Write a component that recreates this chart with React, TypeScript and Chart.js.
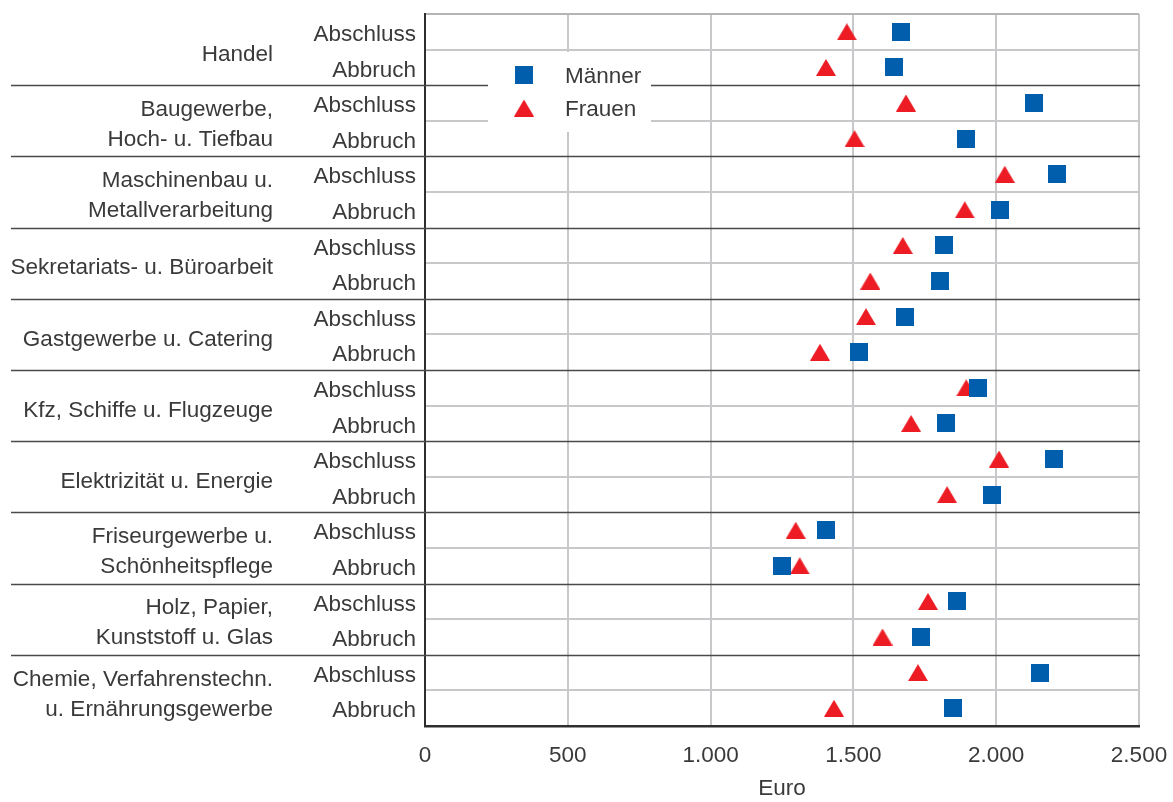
import React, { useEffect, useRef } from 'react';
import { Chart, registerables } from 'chart.js';

Chart.register(...registerables);

// ---------- data ----------
const groupLabels: string[][] = [
  ['Handel'],
  ['Baugewerbe,', 'Hoch- u. Tiefbau'],
  ['Maschinenbau u.', 'Metallverarbeitung'],
  ['Sekretariats- u. Büroarbeit'],
  ['Gastgewerbe u. Catering'],
  ['Kfz, Schiffe u. Flugzeuge'],
  ['Elektrizität u. Energie'],
  ['Friseurgewerbe u.', 'Schönheitspflege'],
  ['Holz, Papier,', 'Kunststoff u. Glas'],
  ['Chemie, Verfahrenstechn.', 'u. Ernährungsgewerbe'],
];
const rowLabels = ['Abschluss', 'Abbruch'];
const menAbschluss = [1667, 2133, 2214, 1818, 1681, 1937, 2203, 1404, 1863, 2154];
const menAbbruch = [1643, 1895, 2014, 1804, 1520, 1825, 1986, 1250, 1737, 1849];
const womenAbschluss = [1477, 1684, 2030, 1673, 1544, 1895, 2010, 1298, 1761, 1726];
const womenAbbruch = [1404, 1504, 1890, 1559, 1383, 1702, 1828, 1312, 1602, 1432];
const seriesNames = ['Männer', 'Frauen'];
const xTickValues = [0, 500, 1000, 1500, 2000, 2500];
const axisTitle = 'Euro';

// ---------- styles ----------
const FONT = "'Liberation Sans', Arial, Helvetica, sans-serif";
const FS = 22.5;
const TEXT = '#3a3a3a';
const GRID = '#c8c8ca';
const DARK = '#4a4a4a';
const AXIS = '#2e2e2e';
const BLUE = '#005EAC';
const RED = '#ED1C24';

function makeSquare(): HTMLCanvasElement {
  const c = document.createElement('canvas');
  c.width = 18;
  c.height = 18;
  const g = c.getContext('2d')!;
  g.fillStyle = BLUE;
  g.fillRect(0, 0, 18, 18);
  return c;
}

function makeTriangle(): HTMLCanvasElement {
  const c = document.createElement('canvas');
  c.width = 20;
  c.height = 17;
  const g = c.getContext('2d')!;
  g.fillStyle = RED;
  g.beginPath();
  g.moveTo(0, 17);
  g.lineTo(10, 0);
  g.lineTo(20, 17);
  g.closePath();
  g.fill();
  return c;
}

function fmt(v: number): string {
  return String(v).replace(/\B(?=(\d{3})+(?!\d))/g, '.');
}

function zeroPadding(s: any) {
  s.paddingTop = 0;
  s.paddingBottom = 0;
  s.paddingLeft = 0;
  s.paddingRight = 0;
}

export default function App() {
  const ref = useRef<HTMLCanvasElement>(null);

  useEffect(() => {
    const canvas = ref.current;
    if (!canvas) return;
    const sq = makeSquare();
    const tri = makeTriangle();

    const menData = groupLabels.flatMap((_, g) => [
      { x: menAbschluss[g], y: 2 * g },
      { x: menAbbruch[g], y: 2 * g + 1 },
    ]);
    const womenData = groupLabels.flatMap((_, g) => [
      { x: womenAbschluss[g], y: 2 * g },
      { x: womenAbbruch[g], y: 2 * g + 1 },
    ]);

    const font = { family: FONT, size: FS };

    const separators = {
      id: 'separators',
      beforeDatasetsDraw(chart: any) {
        const { ctx, chartArea } = chart;
        const y = chart.scales.y;
        ctx.save();
        ctx.strokeStyle = DARK;
        ctx.lineWidth = 1.6;
        for (let k = 1; k < groupLabels.length; k++) {
          const py = Math.round(y.getPixelForValue(2 * k - 0.5)) + 0.5;
          ctx.beginPath();
          ctx.moveTo(11, py);
          ctx.lineTo(chartArea.right + 1, py);
          ctx.stroke();
        }
        ctx.restore();
      },
    };

    const groupText = {
      id: 'groupText',
      afterDraw(chart: any) {
        const { ctx } = chart;
        const y = chart.scales.y;
        ctx.save();
        ctx.font = `${FS}px ${FONT}`;
        ctx.fillStyle = TEXT;
        ctx.textAlign = 'right';
        ctx.textBaseline = 'middle';
        groupLabels.forEach((lines, g) => {
          const c = y.getPixelForValue(2 * g + 0.5);
          const n = lines.length;
          const off = n === 1 ? 5 : 4;
          lines.forEach((l, i) => {
            ctx.fillText(l, 273, c + off + (i - (n - 1) / 2) * 30);
          });
        });
        ctx.restore();
      },
    };

    const legendBox = {
      id: 'legendBox',
      afterDraw(chart: any) {
        const { ctx, chartArea } = chart;
        const bx = chartArea.left + 63;
        const by = chartArea.top + 38;
        ctx.save();
        ctx.fillStyle = '#ffffff';
        ctx.fillRect(bx, by, 163, 80);
        const mx = bx + 36;
        const rows = [
          { img: sq, y: by + 23, label: seriesNames[0] },
          { img: tri, y: by + 56, label: seriesNames[1] },
        ];
        ctx.font = `${FS}px ${FONT}`;
        ctx.fillStyle = TEXT;
        ctx.textAlign = 'left';
        ctx.textBaseline = 'middle';
        rows.forEach((r) => {
          ctx.drawImage(r.img, mx - r.img.width / 2, r.y - r.img.height / 2);
          ctx.fillText(r.label, bx + 77, r.y + 2);
        });
        ctx.restore();
      },
    };

    const chart = new Chart(canvas, {
      type: 'scatter',
      data: {
        datasets: [
          {
            label: seriesNames[0],
            data: menData,
            pointStyle: sq as any,
            pointRadius: 9,
            backgroundColor: BLUE,
            borderColor: BLUE,
          },
          {
            label: seriesNames[1],
            data: womenData,
            pointStyle: tri as any,
            pointRadius: 10,
            backgroundColor: RED,
            borderColor: RED,
          },
        ],
      },
      options: {
        responsive: false,
        animation: false,
        layout: { padding: { top: 14, right: 34, left: 0, bottom: 0 } },
        plugins: {
          legend: { display: false },
          tooltip: { enabled: false },
        },
        scales: {
          x: {
            type: 'linear',
            min: xTickValues[0],
            max: xTickValues[xTickValues.length - 1],
            afterBuildTicks: (s: any) => {
              s.ticks = xTickValues.map((v) => ({ value: v }));
            },
            afterFit: (s: any) => {
              s.height = 76;
              zeroPadding(s);
            },
            grid: {
              color: (c: any) => (c.index === 0 ? 'rgba(0,0,0,0)' : GRID),
              lineWidth: 2,
              drawTicks: false,
            },
            border: { display: true, color: AXIS, width: 2.5 },
            ticks: {
              font,
              color: TEXT,
              padding: 16,
              maxRotation: 0,
              callback: (v: any) => fmt(Number(v)),
            },
            title: {
              display: true,
              text: axisTitle,
              font,
              color: TEXT,
              padding: { top: 0, bottom: 0 },
            },
          },
          y: {
            type: 'linear',
            min: -0.5,
            max: rowLabels.length * groupLabels.length - 0.5,
            reverse: true,
            afterBuildTicks: (s: any) => {
              const t: any[] = [];
              const n = rowLabels.length * groupLabels.length;
              for (let i = 0; i <= 2 * n; i++) t.push({ value: -0.5 + i * 0.5 });
              s.ticks = t;
            },
            afterFit: (s: any) => {
              s.width = 425;
              zeroPadding(s);
            },
            grid: {
              color: (c: any) => {
                const v = c.tick ? c.tick.value : 0;
                if (Number.isInteger(v)) return 'rgba(0,0,0,0)';
                if (v === -0.5) return '#b4b4b6';
                const b = v + 0.5;
                if (b % 2 === 0) return 'rgba(0,0,0,0)';
                return GRID;
              },
              lineWidth: 2,
              drawTicks: false,
            },
            border: { display: true, color: AXIS, width: 2 },
            ticks: {
              autoSkip: false,
              font,
              color: TEXT,
              padding: 9,
              labelOffset: 3,
              callback: (v: any) => {
                const n = Number(v);
                return Number.isInteger(n) ? rowLabels[n % 2] : '';
              },
            },
          },
        },
      },
      plugins: [separators, groupText, legendBox],
    });

    return () => chart.destroy();
  }, []);

  return (
    <div
      style={{
        position: 'fixed',
        left: 0,
        top: 0,
        width: 1173,
        height: 802,
        background: '#ffffff',
      }}
    >
      <canvas ref={ref} width={1173} height={802} style={{ display: 'block' }} />
    </div>
  );
}
